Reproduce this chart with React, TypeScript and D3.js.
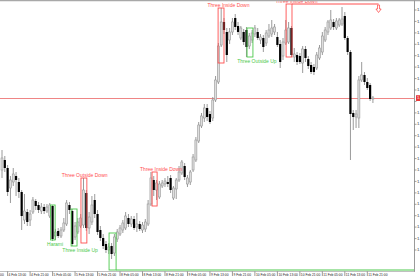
import React from "react";
import * as d3 from "d3";

// OHLC prices (H1 bars)
const opens = [
  1.3830, 1.3840, 1.3832, 1.3812, 1.3818, 1.3824, 1.3818, 1.3808, 1.3780, 1.3788,
  1.3780, 1.3788, 1.3799, 1.3795, 1.3789, 1.3793, 1.3789, 1.3784, 1.3794, 1.3764,
  1.3769, 1.3764, 1.3770, 1.3776, 1.3795, 1.3789, 1.3763, 1.3768, 1.3774, 1.3775,
  1.3807, 1.3772, 1.3778, 1.3800, 1.3786, 1.3770, 1.3762, 1.3756, 1.3750, 1.3754,
  1.3747, 1.3761, 1.3766, 1.3770, 1.3772, 1.3782, 1.3776, 1.3781, 1.3773, 1.3776,
  1.3770, 1.3771, 1.3776, 1.3796, 1.3820, 1.3810, 1.3803, 1.3814, 1.3816, 1.3818,
  1.3822, 1.3802, 1.3811, 1.3820, 1.3827, 1.3834, 1.3816, 1.3818, 1.3830, 1.3840,
  1.3859, 1.3874, 1.3882, 1.3892, 1.3886, 1.3882, 1.3900, 1.3918, 1.3955, 1.3978,
  1.3968, 1.3960, 1.3968, 1.3982, 1.3974, 1.3962, 1.3968, 1.3970, 1.3954, 1.3960,
  1.3966, 1.3968, 1.3960, 1.3962, 1.3957, 1.3964, 1.3966, 1.3968, 1.3963, 1.3956,
  1.3944, 1.3957, 1.3958, 1.3972, 1.3943, 1.3945, 1.3944, 1.3937, 1.3951, 1.3941,
  1.3935, 1.3933, 1.3932, 1.3942, 1.3948, 1.3960, 1.3968, 1.3972, 1.3978, 1.3972,
  1.3975, 1.3976, 1.3984, 1.3962, 1.3948, 1.3887, 1.3883, 1.3882, 1.3920, 1.3925,
  1.3918, 1.3915, 1.3901,
];
const highs = [
  1.3850, 1.3844, 1.3835, 1.3824, 1.3832, 1.3828, 1.3822, 1.3810, 1.3806, 1.3791,
  1.3790, 1.3803, 1.3801, 1.3798, 1.3797, 1.3796, 1.3796, 1.3797, 1.3795, 1.3771,
  1.3772, 1.3773, 1.3782, 1.3800, 1.3798, 1.3791, 1.3778, 1.3782, 1.3786, 1.3822,
  1.3810, 1.3788, 1.3804, 1.3806, 1.3790, 1.3774, 1.3766, 1.3759, 1.3757, 1.3757,
  1.3766, 1.3771, 1.3775, 1.3780, 1.3788, 1.3786, 1.3784, 1.3784, 1.3787, 1.3779,
  1.3778, 1.3781, 1.3800, 1.3828, 1.3824, 1.3820, 1.3819, 1.3820, 1.3822, 1.3824,
  1.3825, 1.3814, 1.3822, 1.3834, 1.3840, 1.3837, 1.3825, 1.3830, 1.3846, 1.3863,
  1.3878, 1.3887, 1.3896, 1.3896, 1.3889, 1.3903, 1.3924, 1.3957, 1.3992, 1.3982,
  1.3972, 1.3972, 1.3982, 1.3986, 1.3978, 1.3974, 1.3971, 1.3973, 1.3967, 1.3970,
  1.3975, 1.3972, 1.3966, 1.3965, 1.3970, 1.3976, 1.3980, 1.3976, 1.3968, 1.3960,
  1.3962, 1.3980, 1.3978, 1.3974, 1.3952, 1.3948, 1.3947, 1.3954, 1.3954, 1.3944,
  1.3938, 1.3936, 1.3948, 1.3955, 1.3968, 1.3973, 1.3980, 1.3990, 1.3981, 1.3982,
  1.3982, 1.3993, 1.3988, 1.3964, 1.3950, 1.3890, 1.3890, 1.3924, 1.3938, 1.3928,
  1.3922, 1.3917, 1.3904,
];
const lows = [
  1.3822, 1.3828, 1.3804, 1.3797, 1.3814, 1.3804, 1.3802, 1.3770, 1.3776, 1.3774,
  1.3774, 1.3786, 1.3790, 1.3787, 1.3786, 1.3786, 1.3787, 1.3782, 1.3759, 1.3760,
  1.3762, 1.3762, 1.3768, 1.3774, 1.3786, 1.3754, 1.3760, 1.3766, 1.3772, 1.3772,
  1.3769, 1.3766, 1.3775, 1.3782, 1.3765, 1.3759, 1.3751, 1.3747, 1.3746, 1.3741,
  1.3744, 1.3758, 1.3764, 1.3767, 1.3770, 1.3773, 1.3773, 1.3770, 1.3768, 1.3769,
  1.3767, 1.3768, 1.3774, 1.3794, 1.3804, 1.3800, 1.3801, 1.3812, 1.3813, 1.3813,
  1.3807, 1.3800, 1.3801, 1.3818, 1.3825, 1.3820, 1.3813, 1.3815, 1.3828, 1.3838,
  1.3857, 1.3872, 1.3878, 1.3879, 1.3876, 1.3879, 1.3898, 1.3916, 1.3953, 1.3966,
  1.3938, 1.3956, 1.3965, 1.3970, 1.3965, 1.3960, 1.3955, 1.3943, 1.3951, 1.3957,
  1.3963, 1.3960, 1.3956, 1.3948, 1.3954, 1.3962, 1.3963, 1.3965, 1.3953, 1.3932,
  1.3940, 1.3955, 1.3956, 1.3943, 1.3938, 1.3935, 1.3936, 1.3927, 1.3938, 1.3931,
  1.3926, 1.3925, 1.3930, 1.3940, 1.3945, 1.3958, 1.3965, 1.3970, 1.3970, 1.3970,
  1.3973, 1.3974, 1.3960, 1.3945, 1.3840, 1.3870, 1.3872, 1.3872, 1.3918, 1.3915,
  1.3910, 1.3899, 1.3897,
];
const closes = [
  1.3842, 1.3832, 1.3808, 1.3820, 1.3826, 1.3820, 1.3808, 1.3784, 1.3789, 1.3778,
  1.3786, 1.3800, 1.3794, 1.3790, 1.3793, 1.3789, 1.3793, 1.3795, 1.3761, 1.3768,
  1.3764, 1.3770, 1.3777, 1.3797, 1.3790, 1.3756, 1.3774, 1.3778, 1.3782, 1.3810,
  1.3772, 1.3783, 1.3795, 1.3786, 1.3768, 1.3762, 1.3754, 1.3750, 1.3753, 1.3746,
  1.3763, 1.3768, 1.3772, 1.3777, 1.3784, 1.3776, 1.3781, 1.3772, 1.3776, 1.3771,
  1.3775, 1.3778, 1.3796, 1.3822, 1.3810, 1.3817, 1.3816, 1.3817, 1.3819, 1.3816,
  1.3810, 1.3812, 1.3820, 1.3828, 1.3838, 1.3823, 1.3822, 1.3828, 1.3843, 1.3860,
  1.3875, 1.3884, 1.3892, 1.3883, 1.3878, 1.3900, 1.3920, 1.3954, 1.3978, 1.3970,
  1.3945, 1.3968, 1.3978, 1.3973, 1.3968, 1.3972, 1.3958, 1.3953, 1.3964, 1.3967,
  1.3972, 1.3962, 1.3963, 1.3953, 1.3967, 1.3970, 1.3972, 1.3973, 1.3955, 1.3938,
  1.3958, 1.3970, 1.3972, 1.3945, 1.3946, 1.3938, 1.3938, 1.3951, 1.3942, 1.3934,
  1.3928, 1.3928, 1.3945, 1.3952, 1.3964, 1.3970, 1.3978, 1.3980, 1.3973, 1.3979,
  1.3980, 1.3981, 1.3962, 1.3948, 1.3886, 1.3883, 1.3886, 1.3920, 1.3925, 1.3918,
  1.3912, 1.3901, 1.3902,
];

// time axis: a label every 8 bars
const timeLabelBars = [-6, 2, 10, 18, 26, 34, 42, 50, 58, 66, 74, 82, 90, 98, 106, 114, 122, 130];
const timeLabels = [
  "4 Feb 05:00", "4 Feb 13:00", "4 Feb 21:00", "5 Feb 05:00", "5 Feb 13:00", "5 Feb 21:00",
  "8 Feb 05:00", "8 Feb 13:00", "8 Feb 21:00", "9 Feb 05:00", "9 Feb 13:00", "9 Feb 21:00",
  "10 Feb 05:00", "10 Feb 13:00", "10 Feb 21:00", "11 Feb 05:00", "11 Feb 13:00", "11 Feb 21:00",
];

// price axis ticks
const priceTicks = [
  1.39900, 1.39786, 1.39671, 1.39557, 1.39443, 1.39329, 1.39214, 1.39100, 1.38986, 1.38871, 1.38757,
  1.38643, 1.38529, 1.38414, 1.38300, 1.38186, 1.38071, 1.37957, 1.37843, 1.37729, 1.37614, 1.37500,
];
const bidPrice = 1.3902;

// candlestick patterns
const patternNames = ["Harami", "Three Inside Up", "Three Outside Down", "", "Three Inside Down", "Three Inside Down", "Three Outside Up", "Three Inside Down"];
const patternBullish = [true, true, false, true, false, false, true, false];
const patternStart = [17.3, 24.6, 28.1, 38.1, 53.4, 76.9, 87.2, 101.1];
const patternEnd = [18.9, 26.7, 30.2, 40.6, 55.2, 79.0, 89.3, 103.2];
const patternTop = [1.3795, 1.3791, 1.3822, 1.3767, 1.3828, 1.3992, 1.3972, 1.3996];
const patternBottom = [1.3760, 1.3754, 1.3757, 1.3730, 1.3794, 1.3937, 1.3943, 1.3943];
const patternLabelBar = [18.9, 27.8, 29.4, 39, 56.6, 80.6, 90.7, 104.8];
const patternLabelAbove = [false, false, true, false, true, true, false, true];

// signal lines extending from a pattern box
const signalPattern = [3, 7];
const signalToBar = [NaN, 134];

const RED = "#ff4f4f";
const GREEN = "#4cc94c";

export default function App() {
  const n = closes.length;
  const plotRight = 414.5;
  const plotBottom = 271;
  const x = d3.scaleLinear().domain([0, n - 1]).range([2, 2 + (n - 1) * 2.81]);
  const y = d3.scaleLinear().domain([1.4 - 0.0271, 1.4]).range([plotBottom, 0]);
  const font = "'Liberation Sans', Arial, sans-serif";

  const candles = d3.range(n).map((i) => {
    const bull = closes[i] >= opens[i];
    const cx = x(i);
    const top = y(Math.max(opens[i], closes[i]));
    const bot = y(Math.min(opens[i], closes[i]));
    return (
      <g key={i}>
        <line x1={cx} x2={cx} y1={y(highs[i])} y2={y(lows[i])} stroke="#8e8e8e" strokeWidth={0.9} />
        {bull ? (
          <rect x={cx - 1} y={top} width={2} height={Math.max(0.8, bot - top)} fill="#dedede" stroke="#969696" strokeWidth={0.6} />
        ) : (
          <rect x={cx - 1.1} y={top} width={2.2} height={Math.max(0.8, bot - top)} fill="#000" />
        )}
      </g>
    );
  });

  const patterns = patternNames.map((name, k) => {
    const col = patternBullish[k] ? GREEN : RED;
    const x0 = x(patternStart[k]);
    const x1 = x(patternEnd[k]);
    const yt = y(patternTop[k]);
    const yb = y(patternBottom[k]);
    const ly = patternLabelAbove[k] ? yt - 2.5 : yb + 4.5;
    return (
      <g key={k}>
        <rect x={x0} y={yt} width={x1 - x0} height={yb - yt} fill="none" stroke={col} strokeWidth={0.9} />
        {name && (
          <text x={x(patternLabelBar[k])} y={ly} fill={col} fontSize={5} textAnchor="middle" dominantBaseline="middle" fontFamily={font}>
            {name}
          </text>
        )}
      </g>
    );
  });

  const signals = signalPattern.map((k, s) => {
    const col = patternBullish[k] ? GREEN : RED;
    const bullish = patternBullish[k];
    const ly = bullish ? y(patternBottom[k]) : y(patternTop[k]);
    const xs = x(patternEnd[k]);
    const toBar = signalToBar[s];
    const xe = isNaN(toBar) ? plotRight : x(toBar);
    const arrow = !isNaN(toBar) ? (
      <path
        d={`M${xe - 1},${ly + 1} L${xe + 1},${ly + 1} L${xe + 1},${ly + 5} L${xe + 2.6},${ly + 5} L${xe},${ly + 8.5} L${xe - 2.6},${ly + 5} L${xe - 1},${ly + 5} Z`}
        fill="#fff"
        stroke={col}
        strokeWidth={0.8}
      />
    ) : null;
    return (
      <g key={s}>
        <line x1={xs} x2={xe} y1={ly} y2={ly} stroke={col} strokeWidth={1} />
        {arrow}
      </g>
    );
  });

  const bidY = y(bidPrice);

  return (
    <svg width={420} height={280} style={{ position: "absolute", left: 0, top: 0, background: "#fff" }} fontFamily={font}>
      <defs>
        <clipPath id="plot">
          <rect x={0} y={0} width={plotRight} height={plotBottom} />
        </clipPath>
      </defs>
      <rect x={0} y={0} width={420} height={280} fill="#fff" />
      <g clipPath="url(#plot)">
        <line x1={0} x2={plotRight} y1={bidY + 0.5} y2={bidY + 0.5} stroke="#ef8585" strokeWidth={1} />
        {candles}
        {patterns}
        {signals}
      </g>
      {/* frame */}
      <line x1={0} x2={420} y1={0.6} y2={0.6} stroke="#a8a8a8" strokeWidth={1.4} />
      <line x1={plotRight} x2={plotRight} y1={0} y2={plotBottom + 1} stroke="#9a9a9a" strokeWidth={1} />
      <line x1={0} x2={plotRight} y1={plotBottom + 0.5} y2={plotBottom + 0.5} stroke="#b0b0b0" strokeWidth={0.8} />
      {/* price axis */}
      {priceTicks.map((p, i) => (
        <g key={i}>
          <line x1={plotRight} x2={plotRight + 2} y1={y(p)} y2={y(p)} stroke="#777" strokeWidth={0.7} />
          {Math.abs(y(p) - bidY) > 5 && (
            <text x={plotRight + 2.5} y={y(p)} fontSize={4.2} fill="#333" dominantBaseline="middle">
              {p.toFixed(4)}
            </text>
          )}
        </g>
      ))}
      <rect x={plotRight + 1.5} y={bidY - 2.8} width={8} height={5.8} fill="#e83a3a" />
      <text x={plotRight + 2.5} y={bidY + 0.2} fontSize={4.2} fill="#fff" dominantBaseline="middle">
        {bidPrice.toFixed(4)}
      </text>
      {/* time axis */}
      {timeLabelBars.map((b, i) => (
        <g key={i}>
          <line x1={x(b)} x2={x(b)} y1={plotBottom + 0.5} y2={plotBottom + 5} stroke="#555" strokeWidth={0.6} />
          <text x={x(b) + 1} y={plotBottom + 5.3} fontSize={3.3} fill="#222">
            {timeLabels[i]}
          </text>
        </g>
      ))}
    </svg>
  );
}
